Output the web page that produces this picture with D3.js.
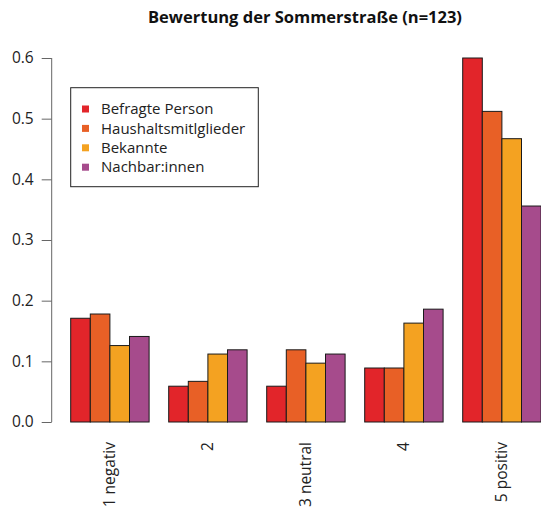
<!DOCTYPE html>
<html>
<head>
<meta charset="utf-8">
<script src="https://cdn.jsdelivr.net/npm/d3@7"></script>
<style>
  html, body { margin: 0; padding: 0; background: #fff; }
  svg { display: block; }
  text { font-family: "Open Sans", "Noto Sans", sans-serif; }
</style>
</head>
<body>
<svg id="chart" width="541" height="509"></svg>
<script>
const categories = ["1 negativ", "2", "3 neutral", "4", "5 positiv"];
const seriesNames = ["Befragte Person", "Haushaltsmitlglieder", "Bekannte", "Nachbar:innen"];
const seriesColors = ["#e2252a", "#e86026", "#f4a221", "#a64b8c"];
const befragte   = [0.171, 0.059, 0.059, 0.089, 0.600];
const haushalt   = [0.178, 0.067, 0.119, 0.089, 0.512];
const bekannte   = [0.126, 0.112, 0.097, 0.163, 0.467];
const nachbarn   = [0.141, 0.119, 0.112, 0.186, 0.356];
const yTicks = [0, 0.1, 0.2, 0.3, 0.4, 0.5, 0.6];
const title = "Bewertung der Sommerstraße (n=123)";

const seriesValues = [befragte, haushalt, bekannte, nachbarn];

const svg = d3.select("#chart");

const x0 = d3.scaleBand().domain(categories).range([51.1, 541.1])
  .paddingInner(0.2).paddingOuter(0.1).align(1);
const x1 = d3.scaleBand().domain(d3.range(seriesNames.length)).range([0, x0.bandwidth()]).padding(0);
const y = d3.scaleLinear().domain([0, 0.6]).range([422, 58]);

// bars
const groups = svg.append("g").selectAll("g")
  .data(categories)
  .join("g")
  .attr("transform", d => `translate(${x0(d)},0)`);

groups.selectAll("rect")
  .data((c, ci) => seriesValues.map((vals, si) => ({ si, v: vals[ci] })))
  .join("rect")
  .attr("x", d => x1(d.si))
  .attr("width", x1.bandwidth())
  .attr("y", d => y(d.v))
  .attr("height", d => y(0) - y(d.v))
  .attr("fill", d => seriesColors[d.si])
  .attr("stroke", "#1a1a1a")
  .attr("stroke-width", 1);

// y axis
const yAxis = d3.axisLeft(y).tickValues(yTicks).tickFormat(d3.format(".1f")).tickSize(10).tickPadding(8);
const ya = svg.append("g").attr("transform", "translate(51.7,0)").call(yAxis);
ya.select(".domain").attr("stroke", "#666").attr("d", `M0,${y(0)}V${y(0.6)}`);
ya.selectAll(".tick line").attr("stroke", "#666");
ya.selectAll(".tick text").attr("fill", "#222").style("font-size", "15.5px");

// x labels (rotated)
svg.append("g").selectAll("text")
  .data(categories)
  .join("text")
  .attr("transform", d => `translate(${x0(d) + x0.bandwidth() / 2},442) rotate(-90)`)
  .attr("text-anchor", "end")
  .attr("dy", "0.35em")
  .attr("fill", "#222")
  .style("font-size", "15.5px")
  .text(d => d);

// title
svg.append("text")
  .attr("x", 305).attr("y", 23)
  .attr("text-anchor", "middle")
  .attr("fill", "#111")
  .style("font-size", "16.5px")
  .style("font-weight", "bold")
  .text(title);

// legend
const lg = svg.append("g");
lg.append("rect")
  .attr("x", 70.7).attr("y", 87.7).attr("width", 187.6).attr("height", 99)
  .attr("fill", "#fff").attr("stroke", "#222").attr("stroke-width", 1);
const rows = lg.selectAll("g.row")
  .data(seriesNames)
  .join("g")
  .attr("class", "row")
  .attr("transform", (d, i) => `translate(0,${109 + i * 19.4})`);
rows.append("rect")
  .attr("x", 82).attr("y", -3.5).attr("width", 7).attr("height", 7)
  .attr("fill", (d, i) => seriesColors[i]);
rows.append("text")
  .attr("x", 101).attr("y", 0).attr("dy", "0.35em")
  .attr("fill", "#222")
  .style("font-size", "15px")
  .text(d => d);
</script>
</body>
</html>
